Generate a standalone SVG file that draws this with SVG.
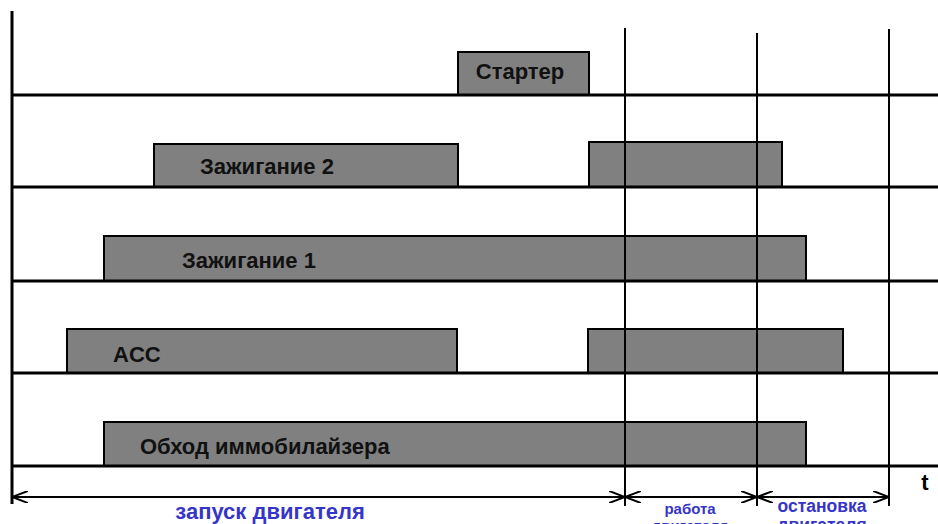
<svg xmlns="http://www.w3.org/2000/svg" width="938" height="524" viewBox="0 0 938 524">
<style>
.bar{fill:#808080;stroke:#000;stroke-width:2}
.lbl{font-family:"Liberation Sans",Arial,sans-serif;font-weight:bold;font-size:22px;fill:#111}
.base{stroke:#000;stroke-width:3}
.vl{stroke:#000;stroke-width:2}
.blue{font-family:"Liberation Sans",Arial,sans-serif;font-weight:bold;fill:#3535c8;text-anchor:middle}
.dim{stroke:#000;stroke-width:2;fill:none}
</style>
<defs>
<marker id="ah" viewBox="0 0 16 12" refX="16" refY="6" markerWidth="16" markerHeight="12" markerUnits="userSpaceOnUse" orient="auto-start-reverse">
<path d="M0,0 L16,6 L0,12" fill="none" stroke="#000" stroke-width="2"/>
</marker>
</defs>
<rect width="938" height="524" fill="#fff"/>
<g id="nodes">
<g id="starter"><rect class="bar" x="458" y="52" width="131" height="43"/><text class="lbl" x="520" y="79" text-anchor="middle">Стартер</text></g>
<g id="ign2"><rect class="bar" x="154" y="144" width="304" height="43"/><rect class="bar" x="589" y="142" width="193" height="45"/><text class="lbl" x="200" y="174">Зажигание 2</text></g>
<g id="ign1"><rect class="bar" x="104" y="236" width="702" height="45"/><text class="lbl" x="182" y="268">Зажигание 1</text></g>
<g id="acc"><rect class="bar" x="67" y="329" width="390" height="44"/><rect class="bar" x="588" y="329" width="255" height="44"/><text class="lbl" x="113" y="362">ACC</text></g>
<g id="immo"><rect class="bar" x="104" y="422" width="702" height="44"/><text class="lbl" x="140" y="454">Обход иммобилайзера</text></g>
</g>
<g id="axes">
<line class="base" x1="12" y1="11" x2="12" y2="504"/>
<line class="base" x1="12" y1="95" x2="938" y2="95"/>
<line class="base" x1="12" y1="187" x2="938" y2="187"/>
<line class="base" x1="12" y1="281" x2="938" y2="281"/>
<line class="base" x1="12" y1="373" x2="938" y2="373"/>
<line class="base" x1="12" y1="466" x2="938" y2="466"/>
<line class="vl" x1="625" y1="28" x2="625" y2="506"/>
<line class="vl" x1="757" y1="33" x2="757" y2="506"/>
<line class="vl" x1="889" y1="29" x2="889" y2="506"/>
<text x="925" y="490" font-family="Liberation Sans,Arial,sans-serif" font-weight="bold" font-size="22" text-anchor="middle">t</text>
</g>
<g id="connectors">
<line class="dim" x1="12" y1="497" x2="625" y2="497" marker-start="url(#ah)" marker-end="url(#ah)"/>
<line class="dim" x1="625" y1="497" x2="757" y2="497" marker-start="url(#ah)" marker-end="url(#ah)"/>
<line class="dim" x1="757" y1="497" x2="889" y2="497" marker-start="url(#ah)" marker-end="url(#ah)"/>
</g>
<g id="labels">
<text class="blue" x="270" y="519" font-size="22">запуск двигателя</text>
<text class="blue" x="690" y="514" font-size="15" font-weight="normal">работа</text>
<text class="blue" x="690" y="531" font-size="15" font-weight="normal">двигателя</text>
<text class="blue" x="822" y="512" font-size="17.5">остановка</text>
<text class="blue" x="822" y="531" font-size="17.5">двигателя</text>
</g>
</svg>
